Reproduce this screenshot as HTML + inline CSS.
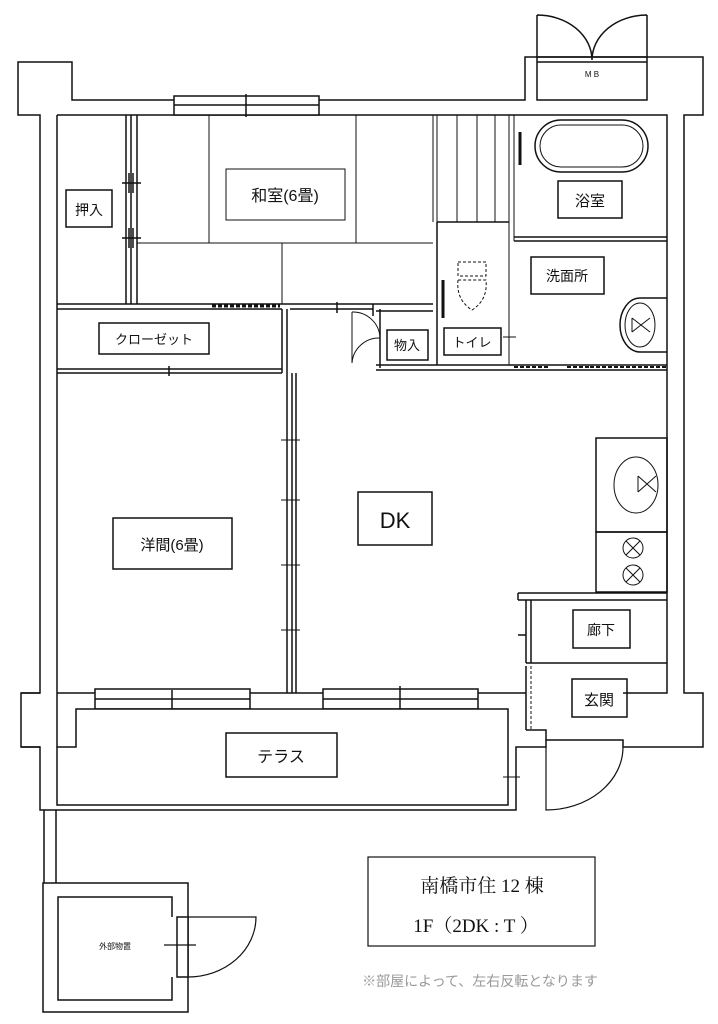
<!DOCTYPE html>
<html><head><meta charset="utf-8"><style>
html,body{margin:0;padding:0;background:#fff;}
svg{display:block;}
text{font-family:"Liberation Sans","Noto Sans CJK JP",sans-serif;}
</style></head><body>
<svg width="718" height="1024" viewBox="0 0 718 1024" xmlns="http://www.w3.org/2000/svg" fill="none" stroke="#111" stroke-width="1.5">
<!-- outer wall outline -->
<path d="M18,62 H72 V100 H525 V57 H703 V115 H684 V693 H703 V747 H623 V740 H546 V747 H516 V810 H40 V747 H21 V693 H40 V115 H18 Z" fill="#fff"/>
<!-- inner boundary -->
<path d="M57,115 H667 V693 H623"/>
<path d="M57,115 V693"/>
<!-- MB -->
<rect x="537" y="57" width="110" height="43"/>
<line x1="537" y1="62" x2="647" y2="62"/>
<path d="M537,15 V57 M647,15 V57 M537,15 A55,45 0 0 1 592,60 M647,15 A55,45 0 0 0 592,60"/>
<text x="592" y="77" font-size="8" fill="#111" stroke="none" text-anchor="middle">M B</text>
<!-- top window -->
<rect x="174" y="96" width="145" height="19" fill="#fff"/>
<line x1="174" y1="105" x2="319" y2="105"/>
<line x1="246" y1="94" x2="246" y2="117"/>
<!-- oshiire sliding door -->
<line x1="126" y1="115" x2="126" y2="304"/><line x1="131" y1="115" x2="131" y2="304"/><line x1="137" y1="115" x2="137" y2="304"/>
<path d="M122,183 H141 M122,238 H141 M129,173 V193 M133,173 V193 M129,228 V248 M133,228 V248"/>
<rect x="66" y="190" width="46" height="37"/>
<text x="89" y="215" font-size="14" fill="#111" stroke="none" text-anchor="middle">押入</text>
<!-- washitsu tatami -->
<path d="M209,115 V243 M356,115 V243 M137,243 H433 M282,243 V304" stroke-width="1"/>
<rect x="226" y="169" width="119" height="51" fill="#fff" stroke-width="1"/>
<text x="285" y="201" font-size="16" fill="#111" stroke="none" text-anchor="middle">和室(6畳)</text>
<!-- stairs -->
<path d="M433,115 V222 M437,115 V222 M457,115 V222 M477,115 V222 M495,115 V222 M509,115 V365 M514,115 V241" stroke-width="1"/>
<!-- bath -->
<path d="M514,237 H667 M514,241 H667"/>
<rect x="535" y="120" width="113" height="52" rx="26"/>
<rect x="540" y="125" width="103" height="42" rx="21" stroke-width="1"/>
<path d="M520,132 V165" stroke-width="3"/>
<rect x="558" y="181" width="64" height="37"/>
<text x="590" y="206" font-size="15" fill="#111" stroke="none" text-anchor="middle">浴室</text>
<!-- toilet -->
<path d="M437,222 H509 M437,222 V365"/>
<path d="M458,262 H486 V276 H458 Z" stroke-dasharray="3,2" stroke-width="1"/>
<path d="M458,280 Q456,300 472,310 Q488,300 486,280 Z" stroke-dasharray="3,2" stroke-width="1"/>
<path d="M443,280 V318" stroke-width="3"/>
<path d="M509,241 V300" stroke-dasharray="3,2" stroke-width="1"/>
<path d="M503,337 H516" stroke-width="1"/>
<rect x="444" y="328" width="57" height="27"/>
<text x="472" y="347" font-size="13" fill="#111" stroke="none" text-anchor="middle">トイレ</text>
<!-- senmenjo -->
<rect x="531" y="257" width="73" height="37"/>
<text x="567" y="281" font-size="14" fill="#111" stroke="none" text-anchor="middle">洗面所</text>
<path d="M667,298 H640 A20,27 0 0 0 640,352 H667"/>
<ellipse cx="640" cy="325" rx="15" ry="22" stroke-width="1"/>
<path d="M632,318 L650,332 M632,332 L650,318 M632,318 V332" stroke-width="1"/>
<!-- horizontal wall below washitsu -->
<path d="M57,304 H433 M57,309 H282"/>
<path d="M212,306 H280" stroke-dasharray="4,2" stroke-width="3"/>
<path d="M290,309 H373 M337,302 V313 M373,304 V316"/>
<!-- closet -->
<path d="M282,309 V373 M287,309 V373 M57,373 H282 M57,369 H282"/>
<line x1="169" y1="366" x2="169" y2="376"/>
<rect x="99" y="323" width="110" height="31"/>
<text x="154" y="344" font-size="13" fill="#111" stroke="none" text-anchor="middle">クローゼット</text>
<!-- monoire -->
<path d="M380,309 V368 M376,311 H433 M376,365 H667 M376,370 H667"/>
<path d="M352,312 A27,27 0 0 1 380,338 M352,363 A27,27 0 0 1 380,338 M352,312 V363" stroke-width="1"/>
<rect x="387" y="330" width="41" height="30"/>
<text x="407" y="350" font-size="13" fill="#111" stroke="none" text-anchor="middle">物入</text>
<path d="M514,367 H548 M567,367 H590 M590,367 H667" stroke-dasharray="4,2" stroke-width="2"/>
<!-- western room partition -->
<path d="M287,373 V693 M292,373 V693 M296,373 V693"/>
<path d="M281,440 H300 M281,500 H300 M281,565 H300 M281,630 H300" stroke-width="1"/>
<rect x="113" y="518" width="119" height="51"/>
<text x="172" y="550" font-size="15" fill="#111" stroke="none" text-anchor="middle">洋間(6畳)</text>
<!-- DK -->
<rect x="358" y="492" width="74" height="53"/>
<text x="395" y="528" font-size="22" fill="#111" stroke="none" text-anchor="middle">DK</text>
<!-- kitchen -->
<rect x="596" y="438" width="71" height="94"/>
<rect x="596" y="532" width="71" height="60"/>
<ellipse cx="636" cy="485" rx="22" ry="28" stroke-width="1"/>
<path d="M638,476 L656,492 M638,492 L656,476 M638,476 V492" stroke-width="1"/>
<circle cx="633" cy="548" r="10" stroke-width="1"/><path d="M626,541 L640,555 M640,541 L626,555" stroke-width="1"/>
<circle cx="633" cy="575" r="10" stroke-width="1"/><path d="M626,568 L640,582 M640,568 L626,582" stroke-width="1"/>
<!-- hallway / genkan -->
<path d="M518,593 H667 M518,600 H667 M518,593 V600 M531,600 V663 M526,600 V663 M518,635 H526"/>
<path d="M526,663 H667 M526,666 V730"/>
<path d="M531,666 V730" stroke-dasharray="3,2" stroke-width="1"/>
<path d="M526,730 H546 V740"/>
<rect x="573" y="610" width="57" height="38"/>
<text x="601" y="635" font-size="14" fill="#111" stroke="none" text-anchor="middle">廊下</text>
<rect x="572" y="679" width="55" height="38"/>
<text x="599" y="705" font-size="15" fill="#111" stroke="none" text-anchor="middle">玄関</text>
<!-- door entrance -->
<path d="M546,747 V810 A77,63 0 0 0 623,747" stroke-width="1.2"/>
<!-- bottom wall / windows -->
<path d="M57,693 H95 M250,693 H323 M478,693 H526"/>
<rect x="95" y="689" width="155" height="20" fill="#fff"/>
<line x1="95" y1="699" x2="250" y2="699"/>
<line x1="172" y1="690" x2="172" y2="712"/>
<rect x="323" y="689" width="155" height="20" fill="#fff"/>
<line x1="323" y1="699" x2="478" y2="699"/>
<line x1="400" y1="686" x2="400" y2="713"/>
<!-- terrace -->
<path d="M40,747 H21 M21,693 H40"/>
<path d="M57,747 H76 V709 H508 V805 H57 Z" fill="#fff"/>
<path d="M57,693 V747"/>
<path d="M503,777 H520 M508,760 V790" stroke-width="1"/>
<rect x="226" y="733" width="111" height="44"/>
<text x="281" y="762" font-size="16" fill="#111" stroke="none" text-anchor="middle">テラス</text>
<!-- pipe and shed -->
<path d="M44,810 V883 M56,810 V883"/>
<rect x="43" y="883" width="145" height="129" fill="#fff"/>
<path d="M172,917 V897 H58 V1000 H172 V977"/>
<rect x="177" y="917" width="11" height="60" fill="#fff"/>
<path d="M164,945 H196 M188,917 H256 A68,60 0 0 1 188,977" stroke-width="1.2"/>
<text x="115" y="949" font-size="8" fill="#111" stroke="none" text-anchor="middle">外部物置</text>
<!-- info -->
<rect x="368" y="857" width="227" height="89" stroke-width="1.2"/>
<text x="482" y="892" font-size="19" fill="#111" stroke="none" text-anchor="middle" style="font-family:'Liberation Serif','Noto Serif CJK SC',serif">南橋市住 12 棟</text>
<text x="476" y="932" font-size="19" fill="#111" stroke="none" text-anchor="middle" style="font-family:'Liberation Serif','Noto Serif CJK SC',serif">1F（2DK : T ）</text>
<text x="480" y="986" font-size="14" fill="#999" stroke="none" text-anchor="middle">※部屋によって、左右反転となります</text>
</svg>
</body></html>
